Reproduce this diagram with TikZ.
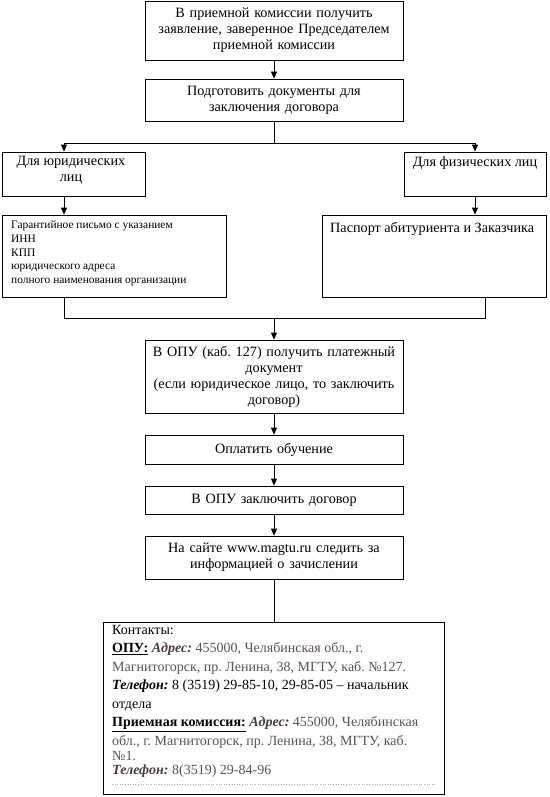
\documentclass[tikz,border=0pt]{standalone}
\usepackage{fontspec}
\setmainfont{Liberation Serif}
\usetikzlibrary{arrows.meta}
\definecolor{addr}{RGB}{95,80,80}
\definecolor{addrlbl}{RGB}{75,58,62}
\definecolor{dotc}{RGB}{180,165,180}
\frenchspacing
\tikzset{
  box/.style={draw, line width=0.8pt, inner sep=0pt, align=center},
  arr/.style={line width=0.8pt, -{Triangle[length=7pt,width=6pt]}},
  ln/.style={line width=0.8pt},
  maintxt/.style={font=\fontsize{14.2}{16}\selectfont},
  smalltxt/.style={font=\fontsize{11.4}{13.8}\selectfont},
}
\begin{document}
\begin{tikzpicture}[x=1pt,y=-1pt]
\useasboundingbox (0,0) rectangle (549,797);
% boxes
\node[box,maintxt,minimum width=258pt,minimum height=59pt,text width=254pt] (b1) at (274,30.5)
  {В приемной комиссии получить\\заявление, заверенное Председателем\\приемной комиссии};
\node[box,maintxt,minimum width=258pt,minimum height=42pt,text width=254pt] (b2) at (274,100)
  {Подготовить документы для\\заключения договора};
\node[box,minimum width=143pt,minimum height=44pt] (l1) at (73.5,174) {};
\node[maintxt,align=center,anchor=north,inner sep=0pt] (l1t) at (71,156) {Для юридических\\лиц};
\node[box,minimum width=142pt,minimum height=44pt] (r1) at (475,174) {};
\node[maintxt,anchor=north,inner sep=0pt] (r1t) at (475,156) {Для физических лиц};
\node[box,minimum width=224pt,minimum height=82pt] (l2) at (114,256) {};
\node[smalltxt,align=left,anchor=north west,inner sep=0pt] (l2t) at (11,220.5)
  {Гарантийное письмо с указанием\\ИНН\\КПП\\юридического адреса\\полного наименования организации};
\node[box,minimum width=224pt,minimum height=82pt] (r2) at (434,256) {};
\node[maintxt,anchor=north west,inner sep=0pt] (r2t) at (330,222) {Паспорт абитуриента и Заказчика};
\node[box,maintxt,minimum width=258pt,minimum height=73pt,text width=254pt] (b3) at (274,376.5)
  {В ОПУ (каб. 127) получить платежный\\документ\\(если юридическое лицо, то заключить\\договор)};
\node[box,maintxt,minimum width=258pt,minimum height=29pt,text width=254pt] (b4) at (274,449.5)
  {Оплатить обучение};
\node[box,maintxt,minimum width=258pt,minimum height=28pt,text width=254pt] (b5) at (274,500)
  {В ОПУ заключить договор};
\node[box,maintxt,minimum width=258pt,minimum height=43pt,text width=254pt] (b6) at (274,557.5)
  {На сайте www.magtu.ru следить за\\информацией о зачислении};
\node[box,minimum width=341pt,minimum height=172pt] (c) at (274,708) {};
\node[anchor=north west,inner sep=0pt,align=left,font=\fontsize{14}{18.5}\selectfont] (ct) at (112,625)
  {Контакты:\\
   \textbf{\underline{ОПУ:}} {\color{addrlbl}\textbf{\textit{Адрес:}}} {\color{addr}455000, Челябинская обл., г.}\\
   {\color{addr}Магнитогорск, пр. Ленина, 38, МГТУ, каб. №127.}\\
   \textbf{\textit{Телефон:}} 8 (3519) 29-85-10, 29-85-05 – начальник\\
   отдела\\
   \textbf{\underline{Приемная комиссия:}} {\color{addrlbl}\textbf{\textit{Адрес:}}} {\color{addr}455000, Челябинская}\\
   {\color{addr}обл., г. Магнитогорск, пр. Ленина, 38, МГТУ, каб.}\\[-3.5pt]
   {\color{addr}№1.}\\[-4pt]
   {\color{addrlbl}\textbf{\textit{Телефон:}}} {\color{addr}8(3519) 29-84-96}};
\coordinate (dl) at (112,784);
\coordinate (dr) at (437,784);
\draw[dotc, line width=0.6pt, dotted] (dl) -- (dr);
% connectors
\coordinate (lx) at (64,0);
\coordinate (rx) at (485,0);
\draw[arr] (b1.south) -- (b2.north);
\coordinate (split) at (274,143);
\draw[ln] (b2.south) -- (split);
\draw[arr] (split) -| (l1.north -| lx);
\draw[arr] (split) -| (r1.north);
\draw[arr] (l1.south -| lx) -- (l2.north -| lx);
\draw[arr] (r1.south) -- (r2.north -| r1.south);
\coordinate (merge) at (274,318);
\draw[ln] (l2.south -| lx) |- (merge);
\draw[ln] (r2.south -| rx) |- (merge);
\draw[arr] (merge) -- (b3.north);
\draw[arr] (b3.south) -- (b4.north);
\draw[arr] (b4.south) -- (b5.north);
\draw[arr] (b5.south) -- (b6.north);
\draw[ln] (b6.south) -- (c.north);
\end{tikzpicture}
\end{document}
